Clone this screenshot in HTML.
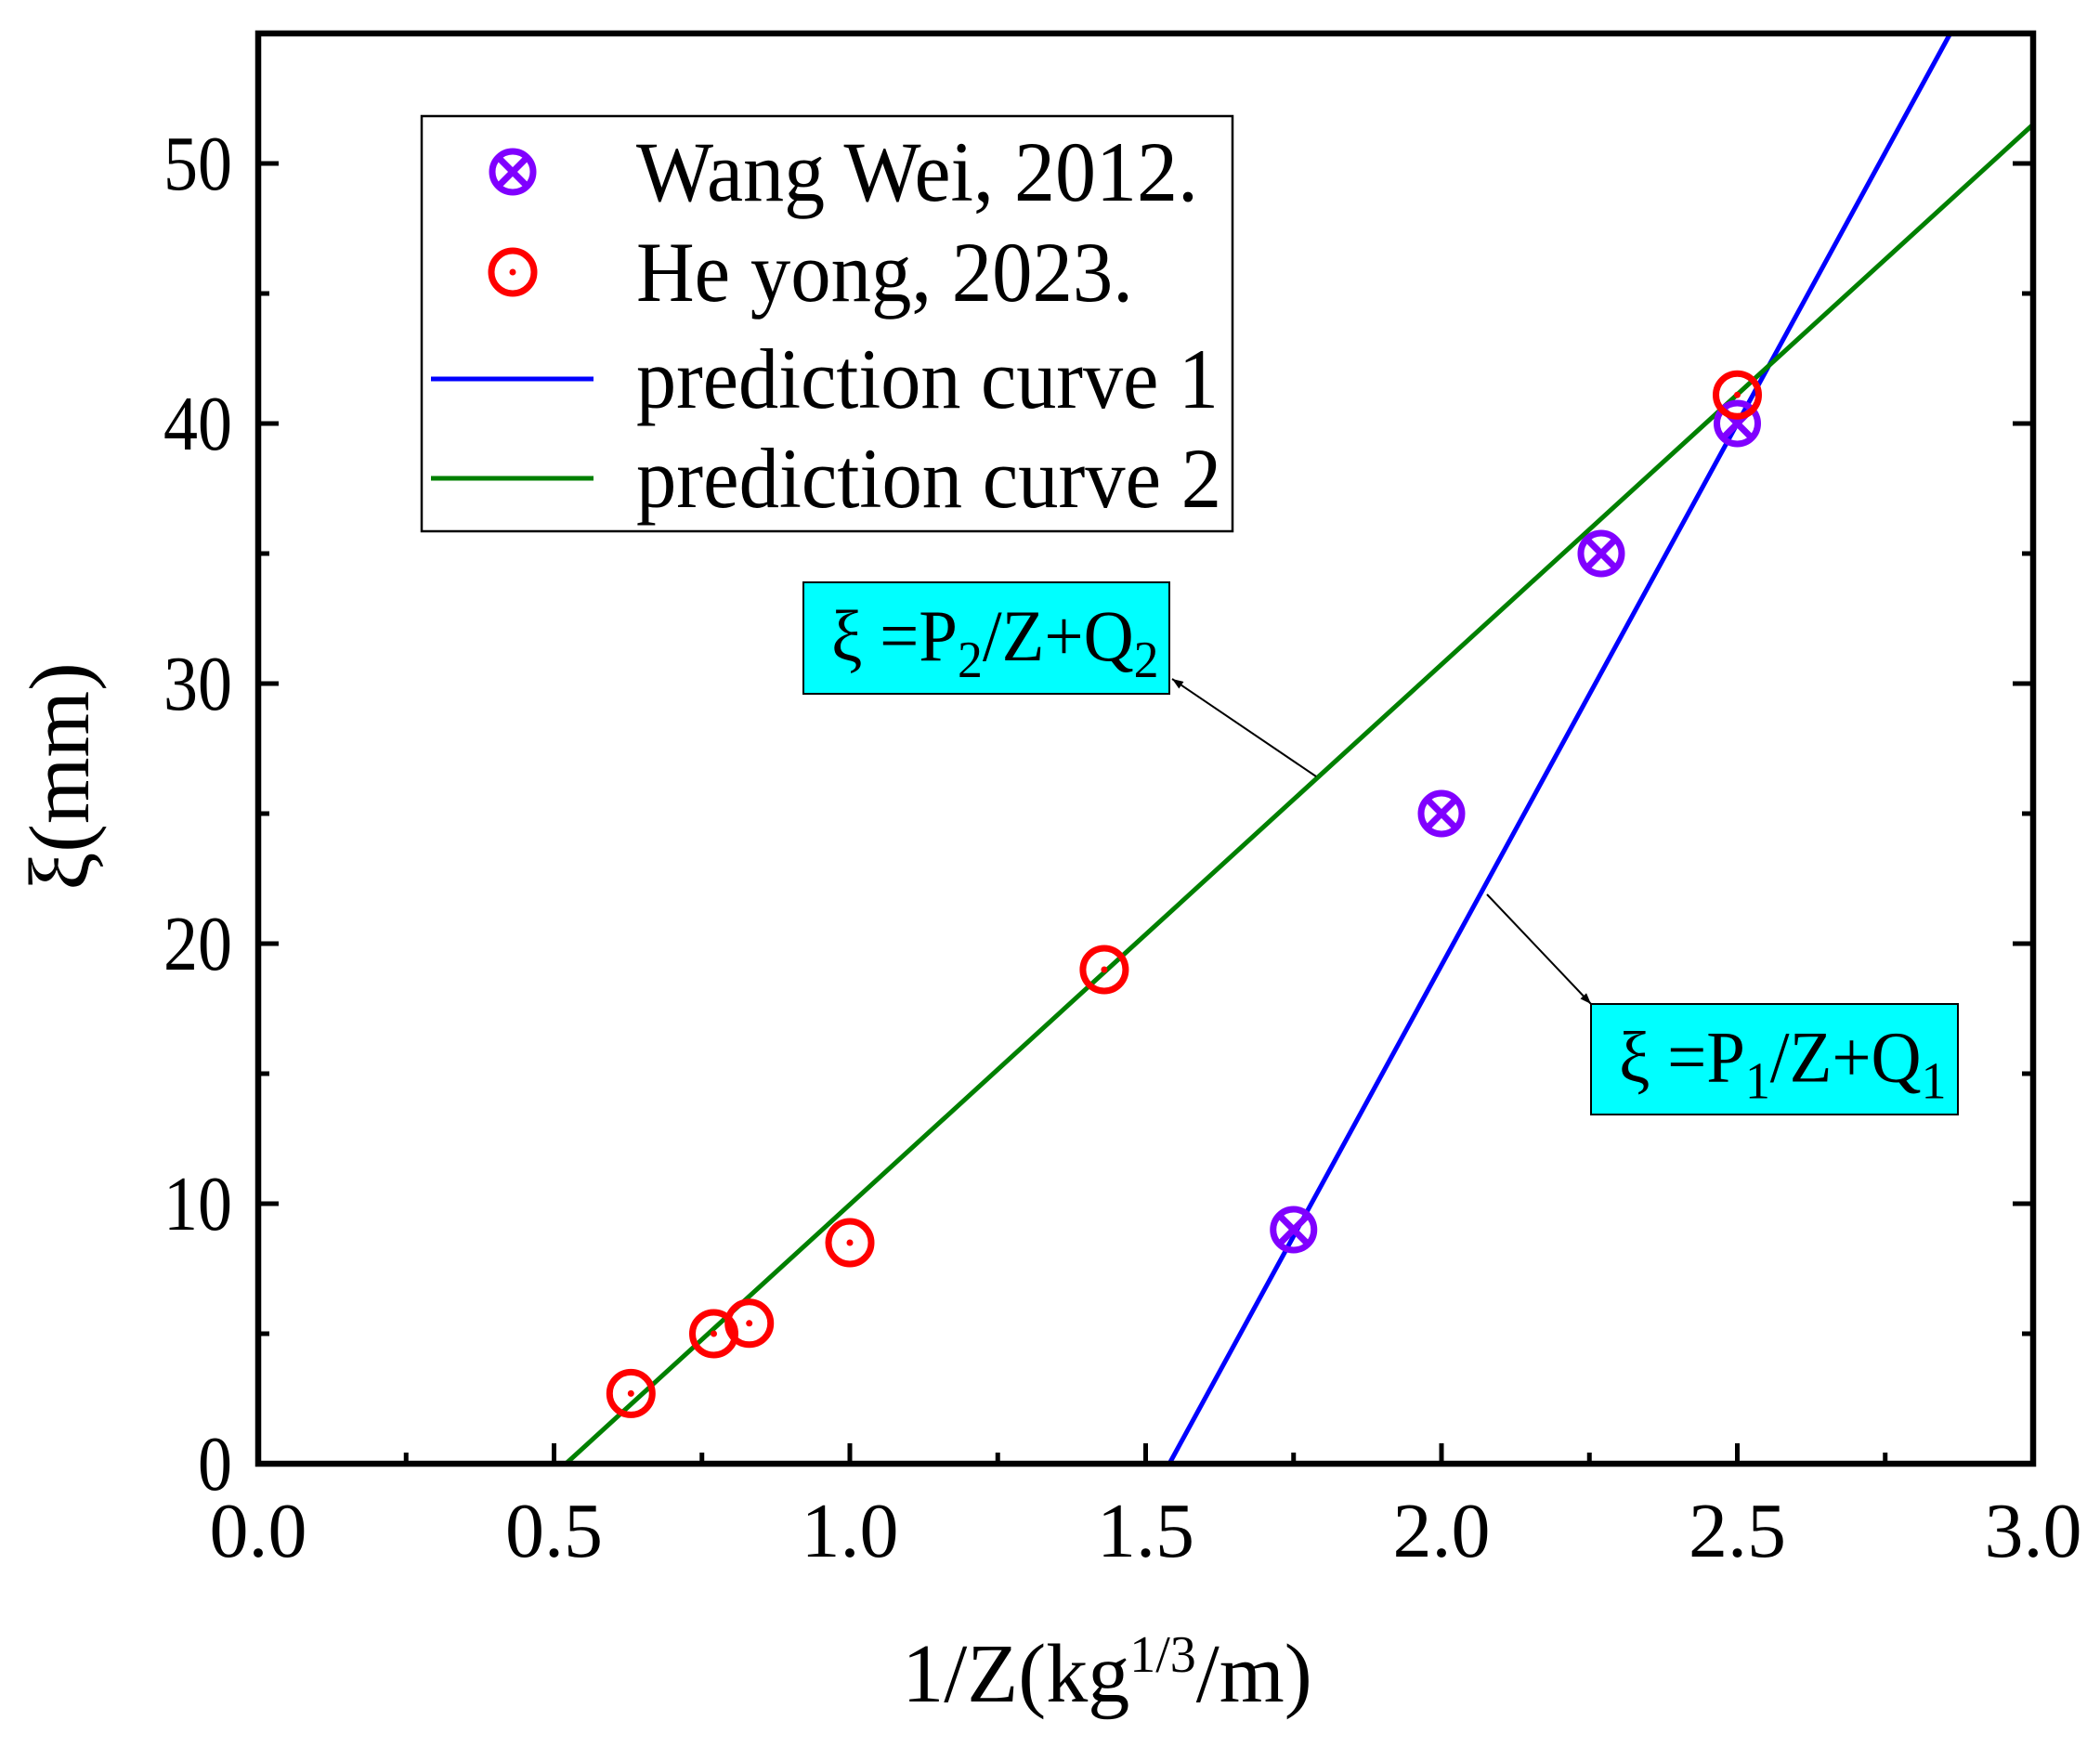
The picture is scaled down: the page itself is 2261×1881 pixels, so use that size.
<!DOCTYPE html>
<html><head><meta charset="utf-8"><style>
html,body{margin:0;padding:0;background:#fff;}
svg{display:block;font-family:"Liberation Serif",serif;}
</style></head><body>
<svg id="chart" width="2261" height="1881" viewBox="0 0 2261 1881" xmlns="http://www.w3.org/2000/svg">
<defs>
<marker id="ah" markerWidth="12" markerHeight="9" refX="12" refY="4.5" orient="auto" markerUnits="userSpaceOnUse"><path d="M0,0 L12,4.5 L0,9 z" fill="#000"/></marker>
</defs>
<g id="plot"></g>
</svg>
<script>
const wangX=[1.75,2.0,2.27,2.5];
const wangY=[9,25,35,40];
const heX=[0.63,0.77,0.83,1.0,1.43,2.5];
const heY=[2.7,5,5.4,8.5,19,41.1];
const curve1X=[1.54,2.86];
const curve1Y=[0,55];
const curve2X=[0.52,3.0];
const curve2Y=[0,51.5];
const xTicks=["0.0","0.5","1.0","1.5","2.0","2.5","3.0"];
const yTicks=["0","10","20","30","40","50"];

const L=278,R=2189,T=36,B=1576,XMAX=3,YMAX=55;
const sx=v=>L+(R-L)*v/XMAX;
const sy=v=>B-(B-T)*v/YMAX;
const NS="http://www.w3.org/2000/svg";
const g=document.getElementById('plot');
function el(tag,attrs,parent){const e=document.createElementNS(NS,tag);for(const k in attrs)e.setAttribute(k,attrs[k]);(parent||g).appendChild(e);return e;}

const c1=el('line',{x1:sx(curve1X[0]),y1:sy(curve1Y[0]),x2:sx(curve1X[1]),y2:sy(curve1Y[1]),stroke:'#0000ff','stroke-width':5});


const c2=el('line',{x1:sx(curve2X[0]),y1:sy(curve2Y[0]),x2:sx(curve2X[1]),y2:sy(curve2Y[1]),stroke:'#008000','stroke-width':5});



function wangMarker(cx,cy,parent){
  const gg=el('g',{},parent);
  el('circle',{cx:cx,cy:cy,r:22,fill:'none',stroke:'#8000ff','stroke-width':7},gg);
  el('line',{x1:cx-17,y1:cy-17,x2:cx+17,y2:cy+17,stroke:'#8000ff','stroke-width':7},gg);
  el('line',{x1:cx-17,y1:cy+17,x2:cx+17,y2:cy-17,stroke:'#8000ff','stroke-width':7},gg);
  return gg;
}
function heMarker(cx,cy,parent){
  const gg=el('g',{},parent);
  el('circle',{cx:cx,cy:cy,r:23,fill:'none',stroke:'#ff0000','stroke-width':7},gg);
  el('circle',{cx:cx,cy:cy,r:3.5,fill:'#ff0000'},gg);
  return gg;
}
for(let i=0;i<wangX.length;i++){
  const m=wangMarker(sx(wangX[i]),sy(wangY[i]));
  
  
}
for(let i=0;i<heX.length;i++){
  const m=heMarker(sx(heX[i]),sy(heY[i]));
  
  
}

for(let v=0;v<=XMAX+1e-9;v+=0.25){
  const major=Math.abs(v*2-Math.round(v*2))<1e-6;
  el('line',{x1:sx(v),y1:B,x2:sx(v),y2:B-(major?22:12),stroke:'#000','stroke-width':5});
}
for(let v=0;v<=YMAX;v+=5){
  const major=v%10===0;
  const len=major?22:12;
  el('line',{x1:L,y1:sy(v),x2:L+len,y2:sy(v),stroke:'#000','stroke-width':5});
  el('line',{x1:R,y1:sy(v),x2:R-len,y2:sy(v),stroke:'#000','stroke-width':5});
}
xTicks.forEach((t,i)=>{
  const tx=el('text',{x:sx(i*0.5),y:1676,'font-size':84,'text-anchor':'middle',textLength:105,lengthAdjust:'spacingAndGlyphs'});
  tx.textContent=t;
  
  
});
yTicks.forEach((t,i)=>{
  const tx=el('text',{x:250,y:sy(i*10)+28,'font-size':84,'text-anchor':'end',textLength:t.length*37,lengthAdjust:'spacingAndGlyphs'});
  tx.textContent=t;
  
  
});
const fr=el('rect',{x:L,y:T,width:R-L,height:B-T,fill:'none',stroke:'#000','stroke-width':6.5});



const lg=el('g',{});


el('rect',{x:454,y:125,width:873,height:447,fill:'#fff',stroke:'#000','stroke-width':2.5},lg);
wangMarker(552,185,lg);
heMarker(552,293,lg);
el('line',{x1:464,y1:408,x2:639,y2:408,stroke:'#0000ff','stroke-width':5},lg);
el('line',{x1:464,y1:515,x2:639,y2:515,stroke:'#008000','stroke-width':5},lg);
[["Wang Wei, 2012.",185,605],["He yong, 2023.",293,535],["prediction curve 1",408,627],["prediction curve 2",515,630]].forEach(([t,y,w])=>{
  const tx=el('text',{x:685,y:y+31,'font-size':92,textLength:w,lengthAdjust:'spacingAndGlyphs'},lg);
  tx.textContent=t;
  
  
});

function box(x,y,w,h,sub,name){
  const gg=el('g',{});
  
  
  el('rect',{x:x,y:y,width:w,height:h,fill:'#00ffff',stroke:'#000','stroke-width':2},gg);
  const tx=el('text',{x:x+30,y:y+h/2+24,'font-size':78},gg);
  tx.innerHTML='<tspan textLength="330" lengthAdjust="spacingAndGlyphs">ξ =P</tspan>';
  tx.innerHTML='ξ =P<tspan dy="18" font-size="56">'+sub+'</tspan><tspan dy="-18">/Z+Q</tspan><tspan dy="18" font-size="56">'+sub+'</tspan>';
  tx.setAttribute('transform','translate('+(x+30)+',0) scale(0.96,1) translate('+(-(x+30))+',0)');
}
box(865,627,394,120,'2','annotation-curve-2');
box(1713,1081,395,119,'1','annotation-curve-1');
const a2=el('line',{x1:1417,y1:836,x2:1262,y2:731,stroke:'#000','stroke-width':2,'marker-end':'url(#ah)'});


const a1=el('line',{x1:1601,y1:963,x2:1713,y2:1081,stroke:'#000','stroke-width':2,'marker-end':'url(#ah)'});



const xt=el('text',{x:1192,y:1832,'font-size':90,'text-anchor':'middle'});
xt.innerHTML='1/Z(kg<tspan dy="-32" font-size="56">1/3</tspan><tspan dy="32">/m)</tspan>';


const yt=el('text',{x:0,y:0,'font-size':92,'text-anchor':'middle',transform:'translate(95,836) rotate(-90)'});
yt.textContent='ξ(mm)';


</script>
</body></html>
